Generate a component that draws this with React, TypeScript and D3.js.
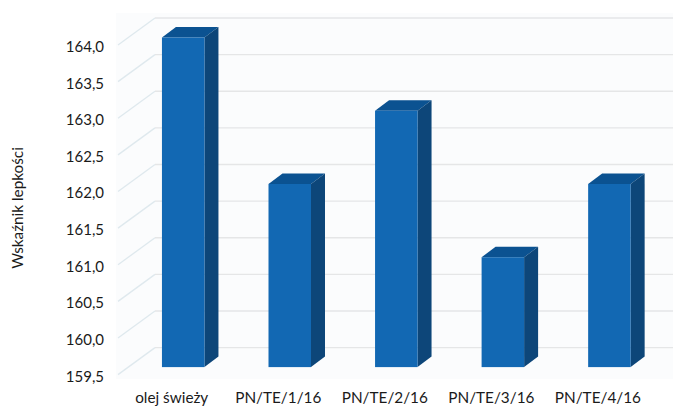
import React from "react";
import * as d3 from "d3";

const categories = ["olej świeży", "PN/TE/1/16", "PN/TE/2/16", "PN/TE/3/16", "PN/TE/4/16"];
const values = [164, 162, 163, 161, 162];
const tickValues = [159.5, 160, 160.5, 161, 161.5, 162, 162.5, 163, 163.5, 164];
const axisTitle = "Wskaźnik lepkości";

const W = 673;
const H = 407;
const font = "Lato, 'Open Sans', sans-serif";

// Axis plane, oblique offset of the back wall, and the offset of each bar's front face.
const y = d3.scaleLinear().domain([159.5, 164]).range([374.6, 45]);
const wall = { dx: 37, dy: -27 };
const face = { dy: -7.5 };
const depth = { dx: 14, dy: -10.5 };
const x = d3.scalePoint<string>().domain(categories).range([183.2, 609.4]);
const barWidth = 42.5;
const fmt = (v: number) => v.toFixed(1).replace(".", ",");
const pts = (p: number[][]) => p.map((q) => q.join(",")).join(" ");

export default function App() {
  return (
    <svg width={W} height={H} style={{ position: "absolute", left: 0, top: 0 }}>
      <rect width={W} height={H} fill="#ffffff" />
      <rect x={116} y={13} width={W - 116} height={366} fill="#fbfcfd" />
      {tickValues.map((t) => (
        <g key={t}>
          <line x1={118} y1={y(t)} x2={118 + wall.dx} y2={y(t) + wall.dy} stroke="#dfe9ee" strokeWidth={1.3} />
          <line x1={118 + wall.dx} y1={y(t) + wall.dy} x2={W} y2={y(t) + wall.dy} stroke="#e5e6e7" strokeWidth={1.3} />
          <text x={104} y={y(t) + 7} textAnchor="end" fontFamily={font} fontSize={15} fill="#1a1a1a">
            {fmt(t)}
          </text>
        </g>
      ))}
      {categories.map((c, i) => {
        const cx = x(c) as number;
        const l = cx - barWidth / 2;
        const r = l + barWidth;
        const top = y(values[i]) + face.dy;
        const bottom = y(159.5) + face.dy;
        const { dx, dy } = depth;
        return (
          <g key={c}>
            <polygon points={pts([[l, top], [l + dx, top + dy], [r + dx, top + dy], [r, top]])} fill="#0b5291" />
            <polygon points={pts([[r, top], [r + dx, top + dy], [r + dx, bottom + dy], [r, bottom]])} fill="#0d4679" />
            <rect x={l} y={top} width={barWidth} height={bottom - top} fill="#1268b3" />
            <text x={cx - 11.5} y={403} textAnchor="middle" fontFamily={font} fontSize={15.3} fill="#1a1a1a">
              {c}
            </text>
          </g>
        );
      })}
      <text
        transform="translate(23,208) rotate(-90)"
        textAnchor="middle"
        fontFamily={font}
        fontSize={15.3}
        fill="#1a1a1a"
      >
        {axisTitle}
      </text>
    </svg>
  );
}
